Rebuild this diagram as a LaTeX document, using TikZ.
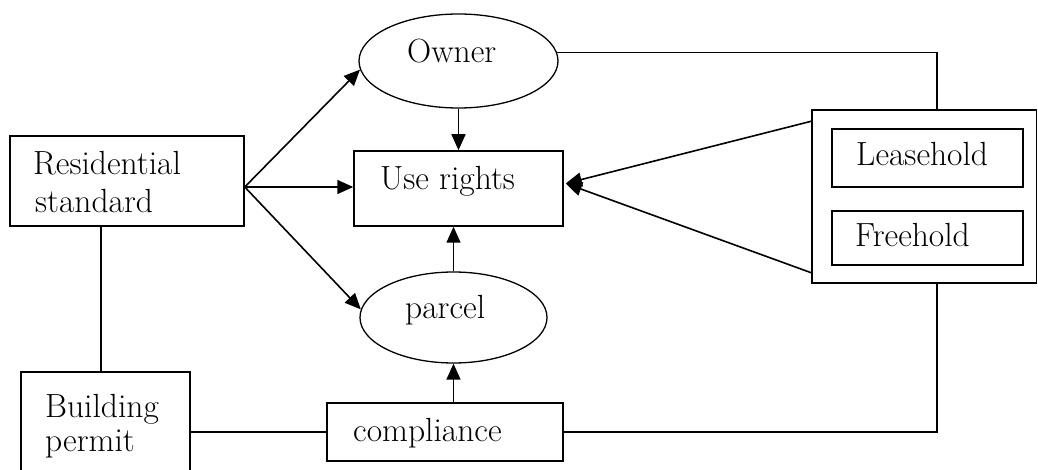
\documentclass[tikz,border=0pt]{standalone}
\usetikzlibrary{arrows.meta,shapes.geometric,calc}
\begin{document}
\begin{tikzpicture}[x=1pt,y=-1pt,
  box/.style={draw, rectangle, inner sep=0pt, line width=1.5pt},
  oval/.style={draw, ellipse, inner sep=0pt, line width=1.3pt},
  lbl/.style={anchor=base west, inner sep=0pt, font=\fontsize{33.5}{40}\selectfont},
  conn/.style={line width=1.6pt},
  arr/.style={conn, -{Triangle[length=16pt,width=14pt]}}]
\useasboundingbox (0,0) rectangle (1038,470);
\fill[white] (0,0) rectangle (1038,470);
\clip (0,0) rectangle (1038,470);
% shapes
\node[box, minimum width=234pt, minimum height=90pt] (res) at (127,181) {};
\node[box, minimum width=209pt, minimum height=75pt] (ur) at (458.5,188.5) {};
\node[oval, minimum width=199pt, minimum height=94pt] (owner) at (458.5,61) {};
\node[oval, minimum width=187pt, minimum height=91pt] (parcel) at (453.5,317.5) {};
\node[box, minimum width=236pt, minimum height=58pt] (comp) at (445,432) {};
\node[box, minimum width=169pt, minimum height=106pt] (bp) at (105.5,425) {};
\node[box, minimum width=224.5pt, minimum height=173pt] (tenure) at (924.25,196.5) {};
\node[box, minimum width=191pt, minimum height=58pt] (lease) at (927.5,158) {};
\node[box, minimum width=191pt, minimum height=54pt] (free) at (927.5,238) {};
% texts
\node[lbl] (rest1) at (33,175) {Residential};
\node[lbl] (rest2) at (35,213) {standard};
\node[lbl] (urt) at (380,190) {Use rights};
\node[lbl] (ownert) at (407,63) {Owner};
\node[lbl] (parcelt) at (405,318) {parcel};
\node[lbl] (compt) at (353,441) {compliance};
\node[lbl] (bpt1) at (45,417) {Building};
\node[lbl] (bpt2) at (45,451) {permit};
\node[lbl] (leaset) at (856,166) {Leasehold};
\node[lbl] (freet) at (855,247) {Freehold};
% connectors
\coordinate (hub) at ($(res.east)+(0,6)$);
\draw[arr] (hub) -- (owner.185);
\draw[arr] (hub) -- (hub -| ur.west);
\draw[arr] (hub) -- (parcel.175);
\draw[arr] (owner.south) -- (ur.north);
\draw[arr] (parcel.north) -- (parcel.north |- ur.south);
\draw[arr] (parcel.south |- comp.north) -- (parcel.south);
\coordinate (tip) at ($(ur.east)+(2,-5)$);
\draw[arr] ($(tenure.north west)+(0,12)$) -- (tip);
\draw[arr] ($(tenure.south west)+(0,-11)$) -- (tip);
\draw[conn] (owner.5) -| ([xshift=12.75pt]tenure.north);
\draw[conn] ([xshift=12.75pt]tenure.south) |- (comp.east);
\draw[conn] ([xshift=-26pt]res.south) -- ([xshift=-26pt]res.south |- bp.north);
\draw[conn] (bp.east |- comp.west) -- (comp.west);
\end{tikzpicture}
\end{document}
